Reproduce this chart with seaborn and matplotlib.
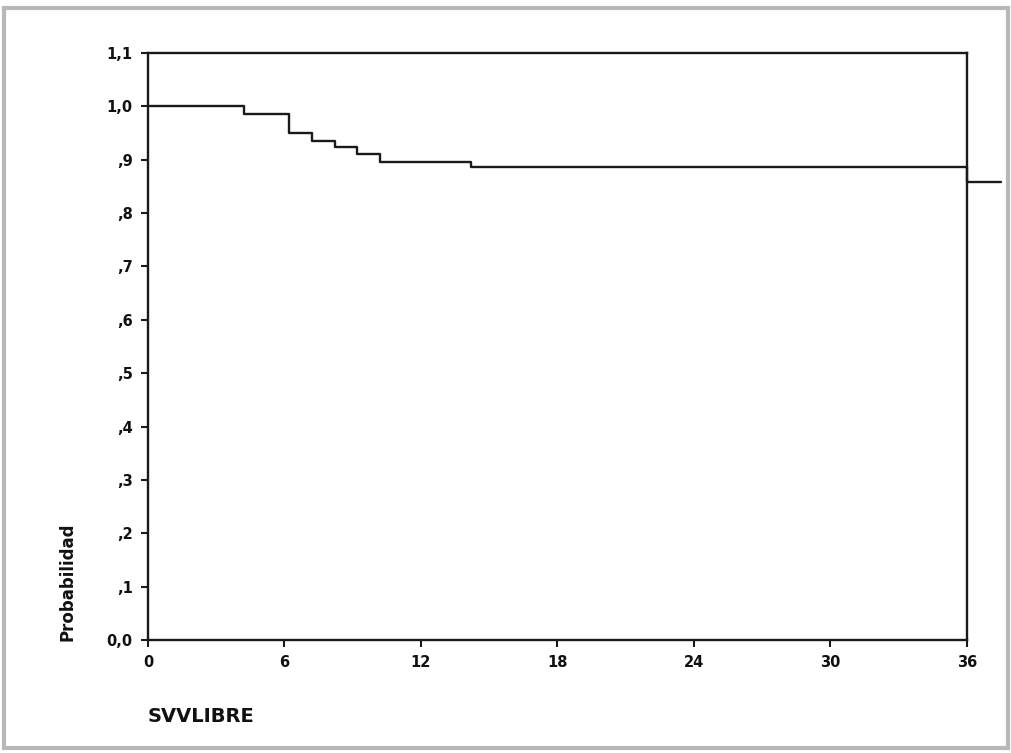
import matplotlib
matplotlib.use("Agg")
import matplotlib.pyplot as plt
import seaborn as sns
import pandas as pd
from matplotlib.patches import Rectangle

# Data (Kaplan-Meier survival estimate)
time = [0, 4.2, 6.2, 7.2, 8.2, 9.2, 10.2, 14.2, 36.0, 37.5]
survival = [1.0, 0.986, 0.950, 0.935, 0.924, 0.911, 0.896, 0.886, 0.858, 0.858]
x_ticks = [0, 6, 12, 18, 24, 30, 36]
y_ticks = [0.0, 0.1, 0.2, 0.3, 0.4, 0.5, 0.6, 0.7, 0.8, 0.9, 1.0, 1.1]
y_tick_labels = ["0,0", ",1", ",2", ",3", ",4", ",5", ",6", ",7", ",8", ",9", "1,0", "1,1"]

sns.set_theme(style="ticks")
plt.rcParams['font.family'] = ['DejaVu Sans']

df = pd.DataFrame({"SVVLIBRE": time, "Probabilidad": survival})

fig = plt.figure(figsize=(10.12, 7.53), dpi=100)
fig.patch.set_facecolor("white")
ax = fig.add_axes([148/1012, 1-640/753, (967-148)/1012, (640-53)/753])

sns.lineplot(data=df, x="SVVLIBRE", y="Probabilidad", drawstyle="steps-post",
             color="#1a1a1a", linewidth=1.7, ax=ax)
for l in ax.lines:
    l.set_clip_on(False)

ax.set_xlim(0, 36)
ax.set_ylim(0, 1.1)
ax.set_xticks(x_ticks)
ax.set_xticklabels([str(t) for t in x_ticks], fontweight="bold", fontsize=10.5)
ax.set_yticks(y_ticks)
ax.set_yticklabels(y_tick_labels, fontweight="bold", fontsize=10.5)
ax.tick_params(direction="out", length=5, width=1.5, color="#1a1a1a", pad=6,
               labelcolor="#111111")

for s in ax.spines.values():
    s.set_visible(True)
    s.set_linewidth(1.7)
    s.set_color("#1a1a1a")

ax.set_xlabel("")
ax.set_ylabel("")
fig.text(67/1012, 1-582/753, "Probabilidad", rotation=90, ha="center", va="center",
         fontweight="bold", fontsize=12, color="#111111")
fig.text(148/1012, 1-717/753, "SVVLIBRE", ha="left", va="center",
         fontweight="bold", fontsize=14, color="#111111")

# scanned page frame
fig.patches.append(Rectangle((0.004, 0.006), 0.992, 0.984, transform=fig.transFigure,
                             fill=False, edgecolor="#b8b8b8", linewidth=3))

fig.savefig("out.png", dpi=100)
